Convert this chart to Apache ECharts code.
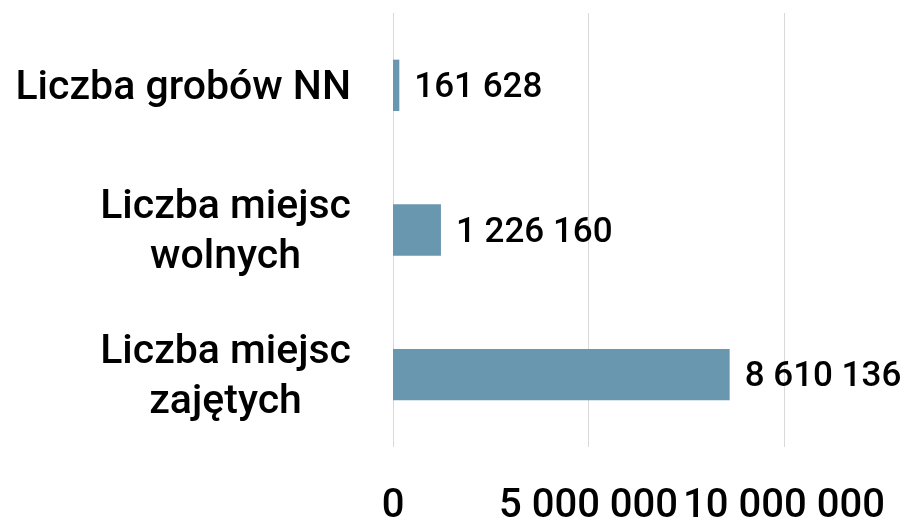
<!DOCTYPE html>
<html>
<head>
<meta charset="utf-8">
<script src="https://cdn.jsdelivr.net/npm/echarts@6/dist/echarts.min.js"></script>
<style>
  html, body { margin: 0; padding: 0; background: #ffffff; }
  #chart { width: 910px; height: 527px; }
</style>
</head>
<body>
<div id="chart"></div>
<script>
// Categories listed top to bottom
const categories = ['Liczba grobów NN', 'Liczba miejsc\nwolnych', 'Liczba miejsc\nzajętych'];
const values = [161628, 1226160, 8610136];
const axisMin = 0;
const axisMax = 10000000;
const axisStep = 5000000;

const FONT = 'Roboto, "Noto Sans", sans-serif';

// Thousands separated by spaces, e.g. 1 226 160
function groupDigits(n) {
  return String(Math.round(n)).replace(/\B(?=(\d{3})+(?!\d))/g, ' ');
}

const chart = echarts.init(document.getElementById('chart'), null, { renderer: 'canvas' });

chart.setOption({
  animation: false,
  backgroundColor: '#ffffff',
  grid: { left: 393, right: 126, top: 13, height: 440, containLabel: false },
  xAxis: {
    type: 'value',
    min: axisMin,
    max: axisMax,
    interval: axisStep,
    axisLine: { show: false },
    axisTick: { show: false },
    splitLine: { show: true, lineStyle: { color: '#d9d9d9', width: 1 } },
    axisLabel: {
      margin: 40,
      fontFamily: FONT,
      fontSize: 40,
      fontWeight: 500,
      color: '#000000',
      formatter: v => groupDigits(v)
    }
  },
  yAxis: {
    type: 'category',
    inverse: true,
    data: categories,
    axisLine: { show: false },
    axisTick: { show: false },
    splitLine: { show: false },
    axisLabel: {
      margin: 42,
      fontFamily: FONT,
      fontSize: 41,
      fontWeight: 500,
      color: '#000000',
      lineHeight: 50,
      padding: [6, 0, 0, 0],
      // each line centred within the label block
      formatter: v => v.split('\n').map(s => '{c|' + s + '}').join('\n'),
      rich: {
        c: { align: 'center', fontFamily: FONT, fontSize: 41, fontWeight: 500, color: '#000000', lineHeight: 50 }
      }
    }
  },
  series: [{
    type: 'bar',
    data: values,
    barWidth: '35.5%',
    itemStyle: { color: '#6997b0' },
    label: {
      show: true,
      position: 'right',
      distance: 15,
      offset: [0, 3],
      fontFamily: FONT,
      fontSize: 35,
      fontWeight: 500,
      color: '#000000',
      formatter: p => groupDigits(p.value)
    }
  }]
});
</script>
</body>
</html>
